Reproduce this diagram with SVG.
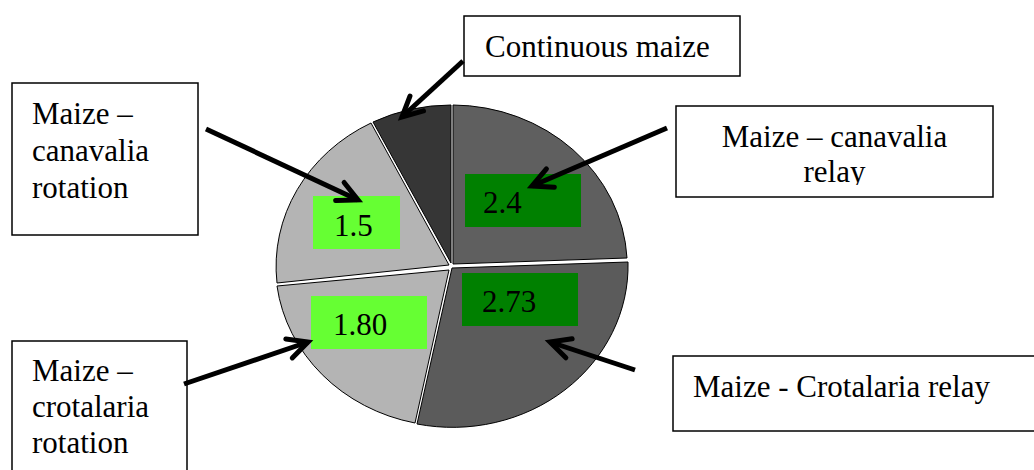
<svg xmlns="http://www.w3.org/2000/svg" width="1034" height="470" viewBox="0 0 1034 470">
<style>
.box{fill:#fff;stroke:#000;stroke-width:1.5}
.t{font-family:"Liberation Serif","Times New Roman",serif;font-size:31px;fill:#000}
.sl{stroke:#000;stroke-width:1}
.lbl{stroke:none}
.arr{stroke:#000;stroke-width:5;fill:none;marker-end:url(#ah)}
</style>
<defs>
<marker id="ah" markerUnits="userSpaceOnUse" markerWidth="40" markerHeight="40" viewBox="-30 -20 40 40" refX="0" refY="0" orient="auto">
<path d="M -20,-10 L 0,0 L -20,10" fill="none" stroke="#000" stroke-width="5" stroke-linecap="round"/>
</marker>
<clipPath id="clipRelay"><rect x="676" y="107" width="317" height="78"/></clipPath>
</defs>
<rect width="1034" height="470" fill="#fff"/>
<g id="pie">
<path class="sl" fill="#5f5f5f" d="M 453,264 L 453,105 A 175.5 161.5 0 0 1 627,258 Z"/>
<path class="sl" fill="#5b5b5b" d="M 452,268 L 628,262 A 175.5 161.5 0 0 1 417,424 Z"/>
<path class="sl" fill="#b4b4b4" d="M 449,270 L 415,423 A 175.5 161.5 0 0 1 277,286 Z"/>
<path class="sl" fill="#b4b4b4" d="M 449,265 L 277,283 A 175.5 161.5 0 0 1 371,123 Z"/>
<path class="sl" fill="#363636" d="M 451,263 L 373,122 A 175.5 161.5 0 0 1 451,105 Z"/>
</g>
<g id="value-2-4">
<rect class="lbl" x="465" y="174" width="116" height="53" fill="#008000"/>
<text class="t" x="483" y="213">2.4</text>
</g>
<g id="value-2-73">
<rect class="lbl" x="462" y="273" width="116" height="53" fill="#008000"/>
<text class="t" x="482" y="312">2.73</text>
</g>
<g id="value-1-5">
<rect class="lbl" x="313" y="196" width="87" height="53" fill="#66ff33"/>
<text class="t" x="334" y="236">1.5</text>
</g>
<g id="value-1-80">
<rect class="lbl" x="311" y="296" width="116" height="53" fill="#66ff33"/>
<text class="t" x="333" y="335">1.80</text>
</g>
<g id="continuous-maize">
<rect class="box" x="464" y="16" width="276" height="60"/>
<text class="t" x="485" y="57">Continuous maize</text>
</g>
<g id="maize-canavalia-rotation">
<rect class="box" x="12" y="83" width="186" height="152"/>
<text class="t" x="32" y="124">Maize –</text>
<text class="t" x="32" y="161">canavalia</text>
<text class="t" x="32" y="198">rotation</text>
</g>
<g id="maize-canavalia-relay">
<rect class="box" x="676" y="106" width="317" height="91"/>
<g clip-path="url(#clipRelay)">
<text class="t" x="834.5" y="147" text-anchor="middle">Maize – canavalia</text>
<text class="t" x="834.5" y="182" text-anchor="middle">relay</text>
</g>
</g>
<g id="maize-crotalaria-rotation">
<rect class="box" x="12" y="341" width="175" height="140"/>
<text class="t" x="32" y="381">Maize –</text>
<text class="t" x="32" y="417">crotalaria</text>
<text class="t" x="32" y="453">rotation</text>
</g>
<g id="maize-crotalaria-relay">
<rect class="box" x="673" y="356" width="370" height="75"/>
<text class="t" x="693" y="397">Maize - Crotalaria relay</text>
</g>
<g id="connectors">
<line class="arr" x1="463" y1="61" x2="402" y2="117"/>
<line class="arr" x1="206" y1="129" x2="358" y2="200"/>
<line class="arr" x1="667" y1="128" x2="532" y2="186"/>
<line class="arr" x1="184" y1="384" x2="308" y2="342"/>
<line class="arr" x1="635" y1="370" x2="550" y2="342"/>
</g>
</svg>
